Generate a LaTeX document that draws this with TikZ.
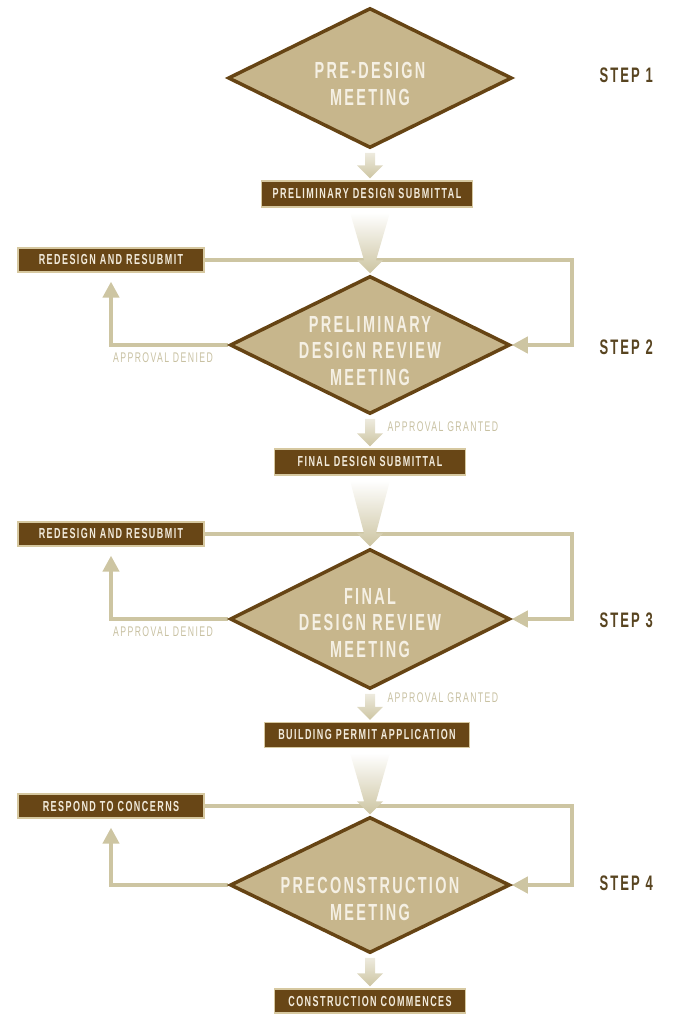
\documentclass[tikz,border=0pt]{standalone}
\usepackage{fontspec}
\newfontfamily\cond{Liberation Sans}[FakeStretch=0.62,LetterSpace=10]
\usetikzlibrary{shapes.geometric,arrows.meta,calc}
\definecolor{boxc}{RGB}{104,70,22}
\definecolor{boxline}{RGB}{214,200,160}
\definecolor{diafill}{RGB}{199,182,140}
\definecolor{dialine}{RGB}{102,68,20}
\definecolor{arrowc}{RGB}{205,197,162}
\definecolor{labelc}{RGB}{200,193,162}
\definecolor{stepc}{RGB}{88,68,32}
\definecolor{boxtext}{RGB}{242,235,220}
\definecolor{diatext}{RGB}{245,240,228}
\begin{document}
\begin{tikzpicture}[x=1pt,y=-1pt,
  dia/.style={diamond,draw=dialine,fill=diafill,line width=3.5pt,inner sep=0pt,minimum width=280pt,minimum height=138pt},
  diaghost/.style={dia,draw=none,fill=none},
  darkbox/.style={rectangle,fill=boxc,draw=boxline,line width=1.2pt,inner sep=0pt,text=boxtext,font=\cond\bfseries\fontsize{14.5}{15}\selectfont},
  redobox/.style={darkbox,minimum width=186pt,minimum height=24pt},
  diatext/.style={align=center,text=diatext,font=\cond\bfseries\fontsize{23.3}{26.5}\selectfont},
  steptext/.style={text=stepc,font=\cond\bfseries\fontsize{21}{22}\selectfont,anchor=west},
  apptext/.style={text=labelc,font=\cond\fontsize{14}{15}\selectfont},
  conn/.style={draw=arrowc,line width=4pt},
  connarrow/.style={conn,-{Triangle[width=16pt,length=16pt]}},
  smallarrow/.style={top color=arrowc!35,bottom color=arrowc},
  funnel/.style={top color=white,bottom color=arrowc}
]
\useasboundingbox (0,0) rectangle (676,1014);

% ---------- side boxes and corner points ----------
\node[redobox] (r1) at (111,260) {REDESIGN AND RESUBMIT};
\node[redobox] (r2) at (111,534) {REDESIGN AND RESUBMIT};
\node[redobox] (r3) at (111,806) {RESPOND TO CONCERNS};
\coordinate (c1) at (572,260);
\coordinate (c2) at (572,534);
\coordinate (c3) at (572,806);

\path (370,78) coordinate (p1) (370,345) coordinate (p2) (370,619) coordinate (p3) (370,885) coordinate (p4);

% invisible diamond outlines for anchoring the loop connectors
\node[diaghost,minimum width=284pt,minimum height=140pt] (d1) at (p1) {};
\node[diaghost] (d2) at (p2) {};
\node[diaghost,minimum height=140pt] (d3) at (p3) {};
\node[diaghost,minimum height=136pt] (d4) at (p4) {};

\draw[connarrow] (r1.east) -- (c1) |- (d2.east);
\draw[connarrow,shorten >=9pt] (d2.west) -| (r1.south);
\draw[connarrow] (r2.east) -- (c2) |- (d3.east);
\draw[connarrow,shorten >=9pt] (d3.west) -| (r2.south);
\draw[connarrow] (r3.east) -- (c3) |- (d4.east);
\draw[connarrow,shorten >=9pt] (d4.west) -| (r3.south);

% diamonds drawn
\node[dia,minimum width=284pt,minimum height=140pt] (D1) at (p1) {};
\node[dia] (D2) at (p2) {};
\node[dia,minimum height=140pt] (D3) at (p3) {};
\node[dia,minimum height=136pt] (D4) at (p4) {};

\node[diatext] (t1) at (370,84) {PRE-DESIGN\\MEETING};
\node[diatext] (t2) at (370,351) {PRELIMINARY\\DESIGN REVIEW\\MEETING};
\node[diatext] (t3) at (370,623) {FINAL\\DESIGN REVIEW\\MEETING};
\node[diatext] (t4) at (370,899) {PRECONSTRUCTION\\MEETING};

% boxes
\node[darkbox,minimum width=211pt,minimum height=26pt] (b1) at (367,194) {PRELIMINARY DESIGN SUBMITTAL};
\node[darkbox,minimum width=191pt,minimum height=26pt] (b2) at (370,462) {FINAL DESIGN SUBMITTAL};
\node[darkbox,minimum width=205pt,minimum height=25pt] (b3) at (367,735) {BUILDING PERMIT APPLICATION};
\node[darkbox,minimum width=191pt,minimum height=24pt] (b4) at (370,1001) {CONSTRUCTION COMMENCES};

% step labels
\node[steptext] (s1) at (596,75) {STEP 1};
\node[steptext] (s2) at (596,347) {STEP 2};
\node[steptext] (s3) at (596,620) {STEP 3};
\node[steptext] (s4) at (596,883) {STEP 4};

% approval labels
\node[apptext] (ad1) at (163,358) {APPROVAL DENIED};
\node[apptext] (ad2) at (163,632) {APPROVAL DENIED};
\node[apptext,anchor=west] (ag1) at (384,427) {APPROVAL GRANTED};
\node[apptext,anchor=west] (ag2) at (384,698) {APPROVAL GRANTED};

% small arrows diamond -> box
\foreach \d/\b in {D1/b1,D2/b2,D3/b3,D4/b4}{
  \coordinate (a) at (\d.south |- \b.north);
  \shade[smallarrow] ($(\d.south)+(-5,3)$) -- ($(\d.south)+(5,3)$) -- ($(a)+(5,-15)$) -- ($(a)+(13,-15)$) -- ($(a)+(0,-2)$) -- ($(a)+(-13,-15)$) -- ($(a)+(-5,-15)$) -- cycle;
}
% funnels box -> diamond
\foreach \b/\d in {b1/D2,b2/D3,b3/D4}{
  \coordinate (f) at (\d.north |- \b.south);
  \shade[funnel] ($(f)+(-20,5)$) -- ($(f)+(20,5)$) -- ($(\d.north)+(6,-14)$) -- ($(\d.north)+(13,-14)$) -- ($(\d.north)+(0,-1)$) -- ($(\d.north)+(-13,-14)$) -- ($(\d.north)+(-6,-14)$) -- cycle;
}
\end{tikzpicture}
\end{document}
